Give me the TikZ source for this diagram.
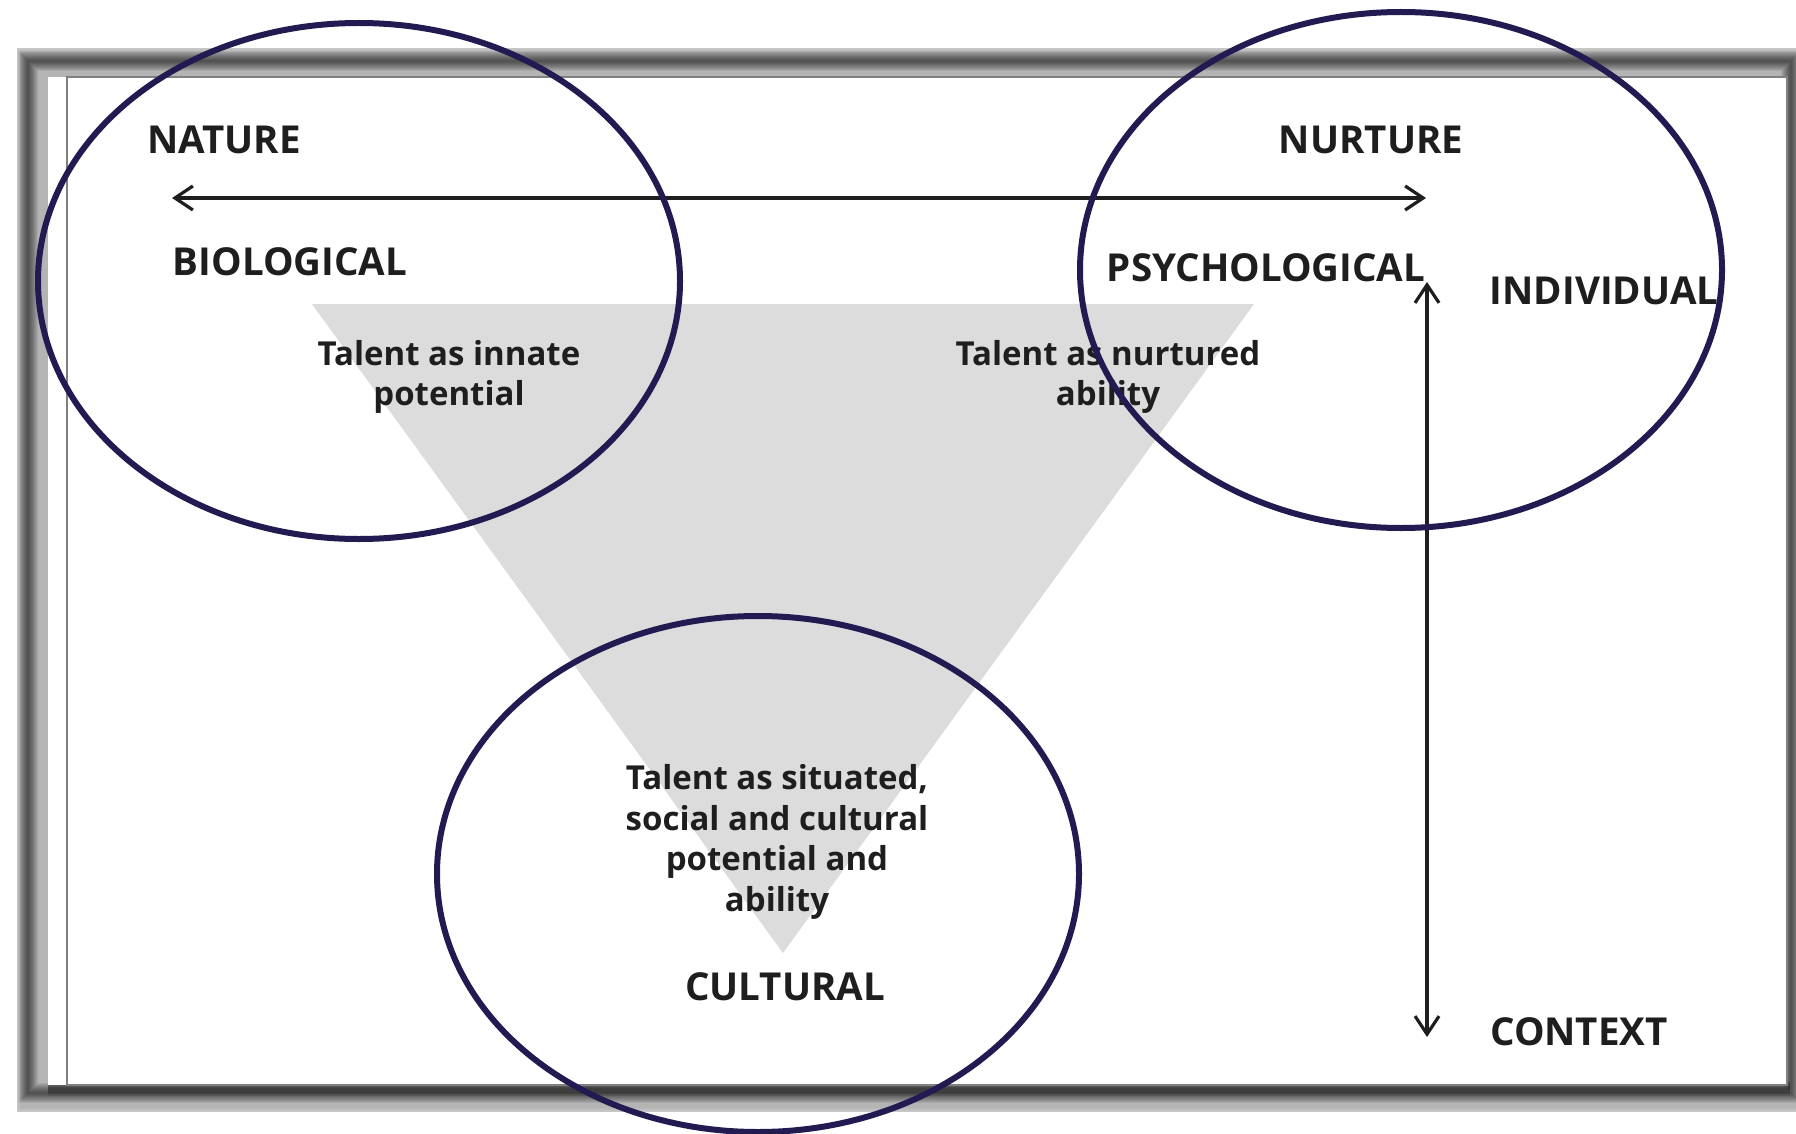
\documentclass[tikz,border=0pt]{standalone}
\usepackage{fontspec}
\setmainfont{Open Sans}
\usetikzlibrary{arrows.meta}
\definecolor{ringblue}{RGB}{33,27,81}
\definecolor{wedgegray}{RGB}{220,220,220}
\definecolor{framegray}{RGB}{180,180,180}
\definecolor{inkgray}{RGB}{30,30,30}

\begin{document}
\begin{tikzpicture}[x=1pt, y=-1pt,
    caps/.style = {font=\fontsize{38.5}{44}\selectfont\bfseries, text=inkgray, inner sep=0pt},
    talent/.style = {font=\fontsize{33}{40.5}\selectfont\bfseries, text=inkgray, align=center, inner sep=0pt},
    twoway/.style = {{Straight Barb[length=18pt, width=24pt]}-{Straight Barb[length=18pt, width=24pt]}, line width=3.2pt, inkgray},
    ring/.style = {draw=ringblue, line width=6pt}]
    \useasboundingbox (0,0) rectangle (1796,1134);

    % grey frame with its soft shadow
    \fill[framegray] (17,48) rectangle (1796,1112);
    \foreach \w in {2,4,...,20}
        \draw[line width=\w pt, black, opacity=0.07] (28,61) rectangle (1791,1093);
    \foreach \w in {2,4,...,8}
        \draw[line width=\w pt, white, opacity=0.08] (17,48) rectangle (1800,1112);
    % drop shadow under the sheet
    \foreach \w in {3,6,...,15}
        \draw[line width=\w pt, black, opacity=0.1] (48,1088) -- (1790,1088);
    \fill[white] (48,77) rectangle (1787,1085);
    \draw[gray, line width=1.2pt] (67,77) rectangle (1787,1085);

    % the grey wedge
    \coordinate (wedgeL) at (312,304);
    \coordinate (wedgeR) at (1254,304);
    \coordinate (wedgeB) at (783,953);
    \fill[wedgegray] (wedgeL) -- (wedgeR) -- (wedgeB) -- cycle;

    % axis labels
    \node[caps] (nature)   at (224,140)  {NATURE};
    \node[caps] (nurture)  at (1371,140) {NURTURE};
    \node[caps] (bio)      at (290,262)  {BIOLOGICAL};
    \node[caps] (psych)    at (1266,268) {PSYCHOLOGICAL};
    \node[caps] (indiv)    at (1604,291) {INDIVIDUAL};
    \node[caps] (context)  at (1579,1032) {CONTEXT};
    \node[caps] (cultural) at (785,987)  {CULTURAL};

    % the two scales
    \coordinate (natEnd) at (172,198);
    \coordinate (nurEnd) at (1426,198);
    \draw[twoway] (natEnd) -- (nurEnd);
    \coordinate (indEnd) at (1427,282);
    \coordinate (ctxEnd) at (1427,1037);
    \draw[twoway] (indEnd) -- (ctxEnd);

    % views of talent
    \node[talent] (innate)   at (449,377) {Talent as innate\\potential};
    \node[talent] (nurtured) at (1108,377) {Talent as nurtured\\ability};
    \node[talent] (situated) at (777,842) {Talent as situated,\\social and cultural\\potential and\\ability};

    % rings drawn over everything
    \pgfmathsetmacro{\Rx}{321}  % units of points
    \pgfmathsetmacro{\Ry}{258}  % units of points
    \draw[ring] (359,281) ellipse [x radius=\Rx pt, y radius=\Ry pt];
    \draw[ring] (1401,270) ellipse [x radius=\Rx pt, y radius=\Ry pt];
    \draw[ring] (758,874) ellipse [x radius=\Rx pt, y radius=\Ry pt];
\end{tikzpicture}
\end{document}
